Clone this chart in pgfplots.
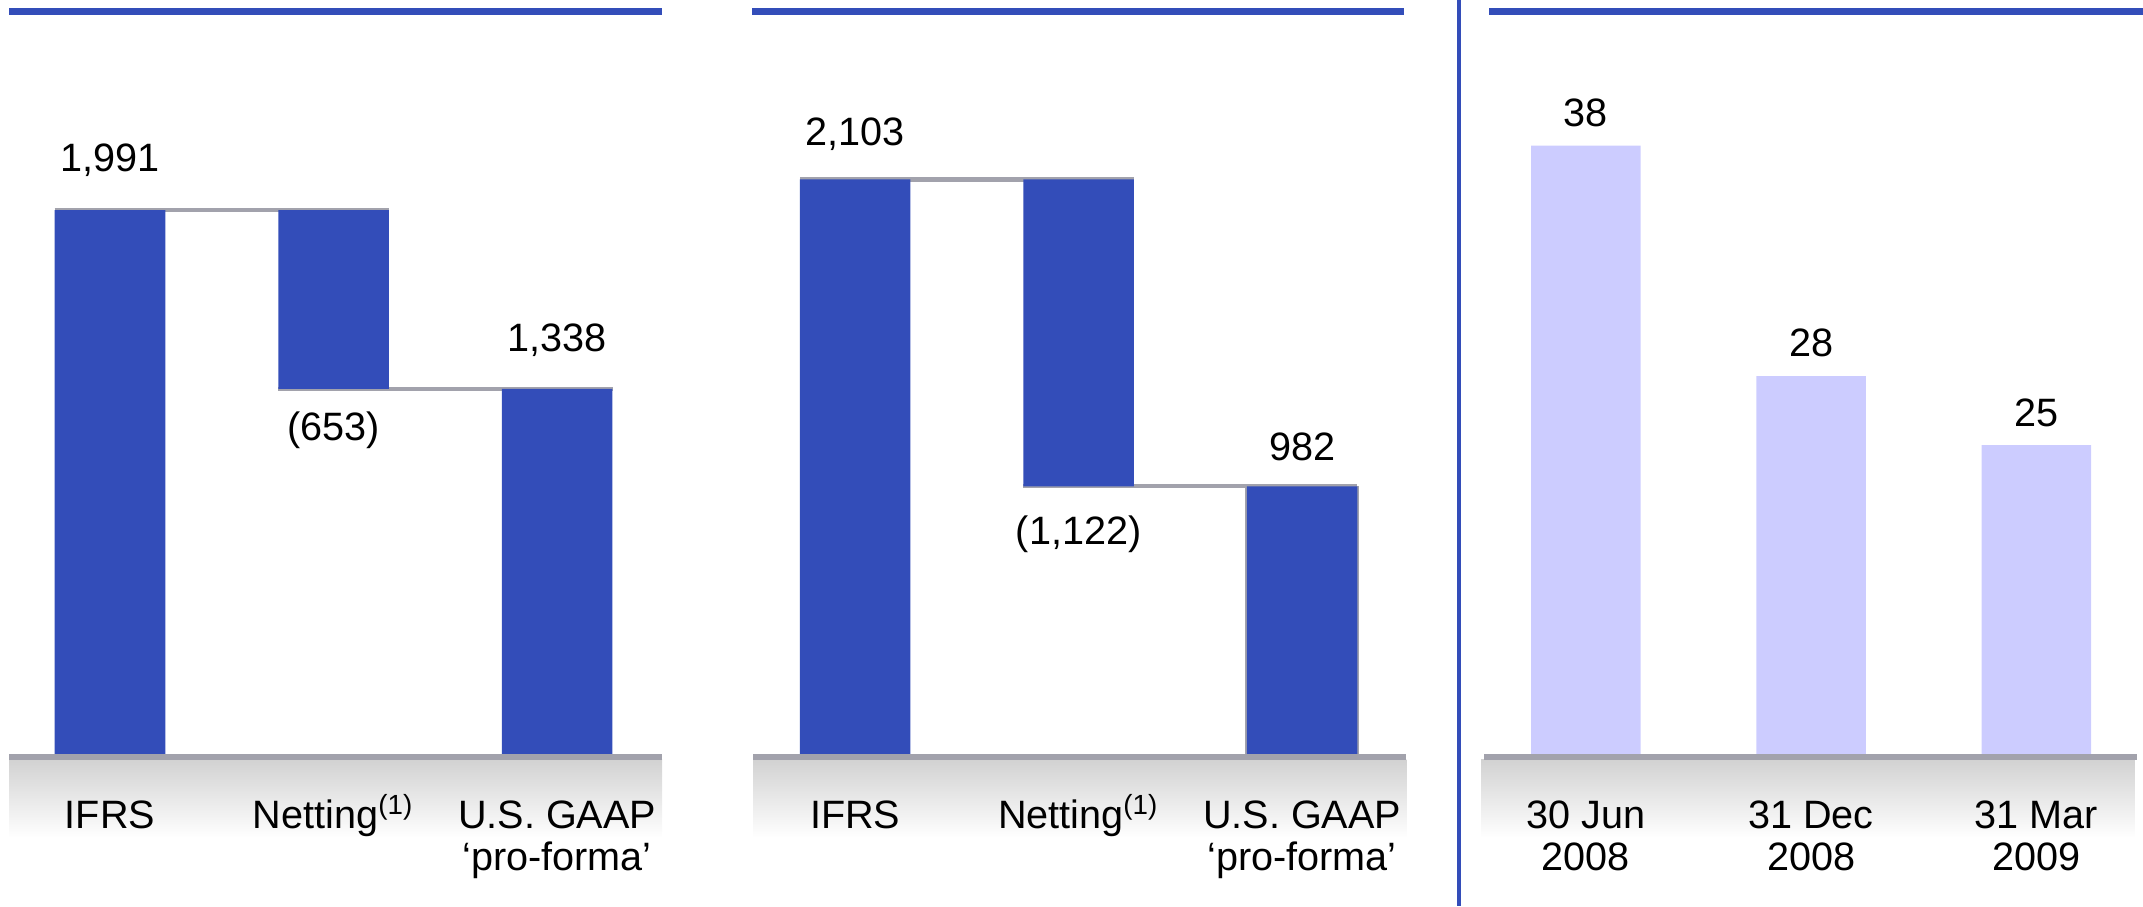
\documentclass[border=0pt]{standalone}
\usepackage{fontspec}
\setmainfont{Liberation Sans}
\usepackage{pgfplots}
\pgfplotsset{compat=1.18}
\definecolor{barblue}{HTML}{334DB9}
\definecolor{lav}{HTML}{CCCCFF}
\definecolor{lgray}{HTML}{A2A2AC}
\definecolor{band}{HTML}{D2D2D2}
\newcommand\lab{\fontsize{10.3}{11}\selectfont}
\newcommand\st{\rule{0pt}{1em}}
\tikzset{vlab/.style={font=\lab, anchor=base, inner sep=0pt}}
\pgfplotsset{
  panel/.style={
    scale only axis, width=#1, height=6.25cm,
    axis x line=bottom, axis y line=none,
    x axis line style={draw=none},
    xtick={0,1,2}, major tick length=0pt,
    ytick=\empty,
    xticklabel style={anchor=north, yshift=-0.3025cm, align=center, font=\lab, inner sep=0pt},
    clip=false,
  },
  wf/.style={ymin=0, ymax=2497.5, ybar stacked, bar width=0.495},
  conn/.style={stack plots=false, sharp plot, lgray, line width=1.13pt},
}
\begin{document}
\begin{tikzpicture}[x=0.0125cm, y=0.0125cm]
\useasboundingbox (0,0) rectangle (1568,663);
% decorations: bands, top rules, divider
\shade[top color=band, bottom color=white] (6.6,107) rectangle (484.4,50);
\shade[top color=band, bottom color=white] (551,107) rectangle (1029,50);
\shade[top color=band, bottom color=white] (1083.7,107) rectangle (1562,50);
\fill[barblue] (6.6,652.3) rectangle (484.4,657.1);
\fill[barblue] (550,652.3) rectangle (1027,657.1);
\fill[barblue] (1089.5,652.3) rectangle (1568,657.1);
\fill[barblue] (1065.8,0) rectangle (1068.7,663);

% Panel 1
\begin{axis}[panel=5.9725cm, wf, at={(0.0825cm,1.38125cm)}, anchor=south west,
  xmin=-0.452, xmax=2.470,
  xticklabels={\st IFRS,{\st Netting\textsuperscript{(1)}},{\st U.S. GAAP\\‘pro-forma’}}]
\addplot[draw=none, fill=none] coordinates {(0,0) (1,1338) (2,0)};
\addplot[fill=barblue, draw=none] coordinates {(0,1991) (1,653) (2,1338)};
\addplot[conn] coordinates {(-0.2477,1991) (1.2477,1991)};
\addplot[conn] coordinates {(0.7523,1338) (2.2477,1338)};
\node[vlab, yshift=0.356cm] at (axis cs:0,1991) {1,991};
\node[vlab, yshift=0.345cm] at (axis cs:2,1338) {1,338};
\node[vlab, yshift=-0.4725cm] at (axis cs:1,1338) {(653)};
\end{axis}

% Panel 2
\begin{axis}[panel=5.975cm, wf, at={(6.8875cm,1.38125cm)}, anchor=south west,
  xmin=-0.4557, xmax=2.468,
  xticklabels={\st IFRS,{\st Netting\textsuperscript{(1)}},{\st U.S. GAAP\\‘pro-forma’}}]
\addplot[draw=none, fill=none] coordinates {(0,0) (1,982) (2,0)};
\addplot[fill=barblue, draw=none] coordinates {(0,2103) (1,1121) (2,982)};
\addplot[stack plots=false, sharp plot, lgray, line width=0.7pt] coordinates {(1.7523,0) (1.7523,982)};
\addplot[stack plots=false, sharp plot, lgray, line width=0.7pt] coordinates {(2.2477,0) (2.2477,982)};
\addplot[conn] coordinates {(-0.2477,2103) (1.2477,2103)};
\addplot[conn] coordinates {(0.7523,982) (2.2477,982)};
\node[vlab, yshift=0.314cm] at (axis cs:0,2103) {2,103};
\node[vlab, yshift=0.235cm] at (axis cs:2,982) {982};
\node[vlab, yshift=-0.53cm] at (axis cs:1,982) {(1,122)};
\end{axis}

% Panel 3
\begin{axis}[panel=5.969cm, at={(13.575cm,1.38125cm)}, anchor=south west,
  xmin=-0.449, xmax=2.449, ymin=11.55, ymax=41.22,
  clip=true, clip mode=individual,
  xticklabels={{\st 30 Jun\\2008},{\st 31 Dec\\2008},{\st 31 Mar\\2009}}]
\addplot[ybar, bar width=0.486, fill=lav, draw=none] coordinates {(0,38) (1,28) (2,25)};
\node[vlab, yshift=0.175cm] at (axis cs:0,38) {38};
\node[vlab, yshift=0.175cm] at (axis cs:1,28) {28};
\node[vlab, yshift=0.175cm] at (axis cs:2,25) {25};
\end{axis}

% baselines (drawn on top of bar bottoms)
\fill[lgray] (6.6,106.8) rectangle (484.4,111.2);
\fill[lgray] (551,106.8) rectangle (1029,111.2);
\fill[lgray] (1086,106.8) rectangle (1563.5,111.2);
\end{tikzpicture}
\end{document}
